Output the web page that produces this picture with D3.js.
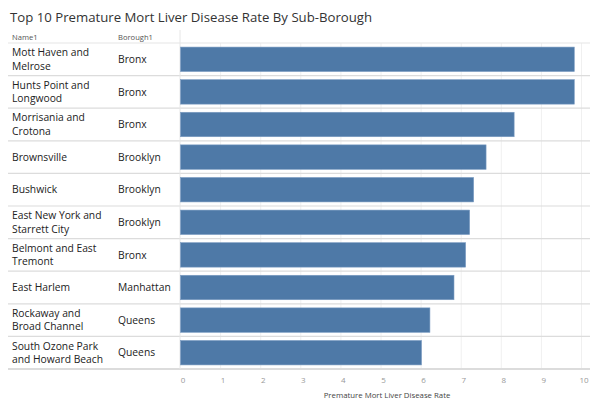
<!DOCTYPE html>
<html>
<head>
<meta charset="utf-8">
<script src="https://cdn.jsdelivr.net/npm/d3@7"></script>
<style>
  html, body { margin: 0; padding: 0; background: #fff; }
  svg { display: block; font-family: "Open Sans", "Lato", sans-serif; }
</style>
</head>
<body>
<svg id="chart" width="590" height="400"></svg>
<script>
// Sub-boroughs with the highest premature liver disease mortality rates
const names = [
  "Mott Haven and Melrose",
  "Hunts Point and Longwood",
  "Morrisania and Crotona",
  "Brownsville",
  "Bushwick",
  "East New York and Starrett City",
  "Belmont and East Tremont",
  "East Harlem",
  "Rockaway and Broad Channel",
  "South Ozone Park and Howard Beach"
];
// Line breaks used for the row labels
const nameLines = [
  ["Mott Haven and", "Melrose"],
  ["Hunts Point and", "Longwood"],
  ["Morrisania and", "Crotona"],
  ["Brownsville"],
  ["Bushwick"],
  ["East New York and", "Starrett City"],
  ["Belmont and East", "Tremont"],
  ["East Harlem"],
  ["Rockaway and", "Broad Channel"],
  ["South Ozone Park", "and Howard Beach"]
];
const boroughs = ["Bronx", "Bronx", "Bronx", "Brooklyn", "Brooklyn", "Brooklyn", "Bronx", "Manhattan", "Queens", "Queens"];
const rates = [9.82, 9.82, 8.32, 7.62, 7.31, 7.21, 7.11, 6.82, 6.22, 6.01];
const xTicks = [0, 1, 2, 3, 4, 5, 6, 7, 8, 9, 10];

const svg = d3.select("#chart");
const W = 590;
const plotLeft = 180.5, plotRight = 581.5;
const tableTop = 43, tableBottom = 369;

const x = d3.scaleLinear().domain([0, 10]).range([plotLeft, plotRight]);
const y = d3.scaleBand().domain(names).range([tableTop, tableBottom]).paddingInner(0.25).paddingOuter(0.125);
const rowH = y.step();

// Title
svg.append("text")
  .attr("x", 10).attr("y", 22)
  .attr("font-size", 13.2).attr("fill", "#333")
  .text("Top 10 Premature Mort Liver Disease Rate By Sub-Borough");

// Column headers
svg.append("text").attr("x", 12).attr("y", 39.5).attr("font-size", 7.6).attr("fill", "#555").text("Name1");
svg.append("text").attr("x", 118).attr("y", 39.5).attr("font-size", 7.6).attr("fill", "#555").text("Borough1");

// Vertical gridlines
svg.append("g").selectAll("line").data(xTicks.slice(1)).join("line")
  .attr("x1", d => x(d)).attr("x2", d => x(d))
  .attr("y1", tableTop).attr("y2", tableBottom)
  .attr("stroke", "#f0f0f0").attr("stroke-width", 1);

// Row separators
const seps = d3.range(names.length + 1).map(i => tableTop + i * rowH);
svg.append("g").selectAll("line").data(seps).join("line")
  .attr("x1", 8).attr("x2", W)
  .attr("y1", d => d).attr("y2", d => d)
  .attr("stroke", (d, i) => i === 0 ? "#e6e6e6" : "#dcdcdc")
  .attr("stroke-width", (d, i) => i === names.length ? 2 : 1.2);

// Pane divider between table and bars
svg.append("line")
  .attr("x1", 180).attr("x2", 180).attr("y1", 30).attr("y2", tableBottom)
  .attr("stroke", "#e6e6e6").attr("stroke-width", 1);

// Bars
svg.append("g").selectAll("rect").data(names).join("rect")
  .attr("x", x(0))
  .attr("y", d => y(d))
  .attr("width", (d, i) => x(rates[i]) - x(0))
  .attr("height", y.bandwidth())
  .attr("fill", "#4e79a7")
  .attr("stroke", "#7b9cc2").attr("stroke-width", 0.6);

// Row labels
const rows = svg.append("g").selectAll("g").data(names).join("g")
  .attr("transform", d => `translate(0,${y(d) + y.bandwidth() / 2})`);

rows.append("text")
  .attr("x", 12).attr("font-size", 10.3).attr("fill", "#222")
  .each(function(d, i) {
    const lines = nameLines[i];
    const lh = 13.5;
    const t = d3.select(this);
    lines.forEach((ln, k) => {
      t.append("tspan")
        .attr("x", 12)
        .attr("y", (k - (lines.length - 1) / 2) * lh)
        .attr("dy", "0.35em")
        .text(ln);
    });
  });

rows.append("text")
  .attr("x", 118).attr("dy", "0.35em").attr("font-size", 10.3).attr("fill", "#222")
  .text((d, i) => boroughs[i]);

// Bottom axis
const axis = svg.append("g").attr("transform", `translate(0,${tableBottom})`)
  .call(d3.axisBottom(x).tickValues(xTicks).tickSize(0).tickPadding(8).tickFormat(d3.format("d")));
axis.select(".domain").remove();
axis.selectAll("text").attr("font-size", 8).attr("fill", "#999").attr("font-family", "Open Sans, sans-serif")
  .attr("dx", 2);

svg.append("text")
  .attr("x", 387).attr("y", 398)
  .attr("text-anchor", "middle").attr("font-size", 7.8).attr("fill", "#444")
  .text("Premature Mort Liver Disease Rate");
</script>
</body>
</html>
